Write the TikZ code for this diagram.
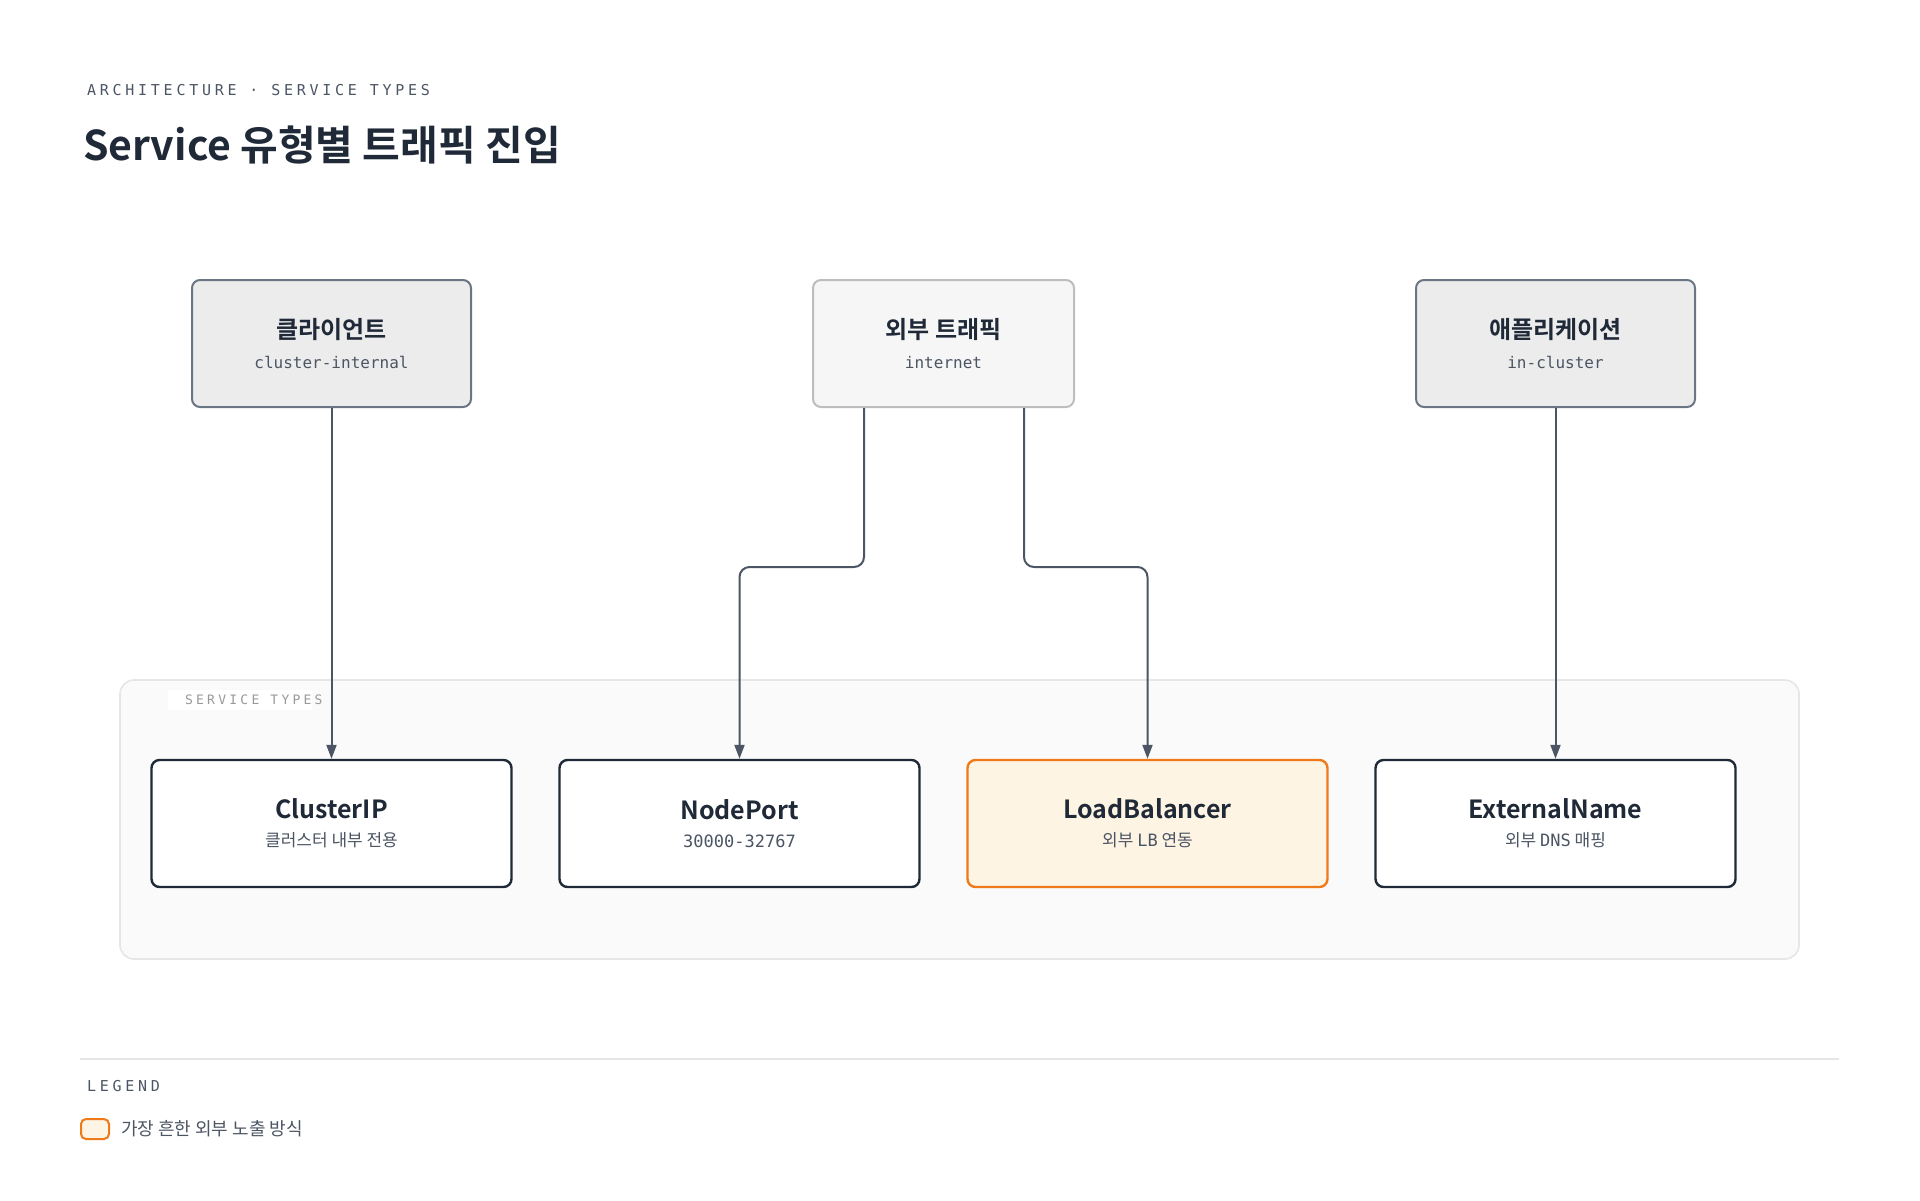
\documentclass[tikz,border=0pt]{standalone}
\usepackage{fontspec}
\setmainfont{Noto Sans CJK KR}[BoldFont={Noto Sans CJK KR Bold}]
\newfontfamily\mono{DejaVu Sans Mono}
\newfontfamily\eyebrow{DejaVu Sans Mono}[LetterSpace=25]
\usetikzlibrary{arrows.meta,positioning}
\definecolor{ink}{HTML}{1F2937}
\definecolor{wire}{HTML}{4B5563}
\definecolor{subtxt}{HTML}{4B5563}
\definecolor{srcline}{HTML}{6B7685}
\definecolor{srcfill}{HTML}{ECECEC}
\definecolor{extline}{HTML}{BDBDBD}
\definecolor{extfill}{HTML}{F6F6F6}
\definecolor{lbline}{HTML}{EE7A1A}
\definecolor{lbfill}{HTML}{FEF4E3}
\definecolor{grpline}{HTML}{E6E6E6}
\definecolor{grpfill}{HTML}{FAFAFA}
\begin{document}
\begin{tikzpicture}[x=0.5pt,y=-0.5pt,
	srcnode/.style={rectangle, rounded corners=4pt, line width=1pt,
		minimum width=139.5pt, minimum height=63.5pt,
		draw=srcline, fill=srcfill, align=center, text=ink},
	svcnode/.style={rectangle, rounded corners=4pt, line width=1.2pt,
		minimum width=180pt, minimum height=63.5pt,
		draw=ink, fill=white, align=center, text=ink},
	flow/.style={-{Triangle[length=7pt,width=5pt]}, wire, line width=1pt, rounded corners=5pt}
	]
\useasboundingbox (0,0) rectangle (1920,1200);

%heading
\node[anchor=west, text=subtxt, font=\eyebrow\fontsize{7.5}{9}\selectfont] (eyebrow) at (80,90) {ARCHITECTURE · SERVICE TYPES};
\node[anchor=west, text=ink, font=\bfseries\fontsize{20.5}{24}\selectfont] (title) at (76,145) {Service 유형별 트래픽 진입};

%service group
\node[draw=grpline, fill=grpfill, rounded corners=7pt, line width=0.8pt,
	minimum width=839.5pt, minimum height=139.5pt] (grp) at (959.5,819.5) {};
\node[fill=white, minimum width=72pt, minimum height=10pt, inner sep=0pt] (grpbg) at (240,700) {};
\node[anchor=west, text=gray!80, font=\eyebrow\fontsize{6.5}{8}\selectfont] (grplabel) at (178,700) {SERVICE TYPES};

%source nodes
\node[srcnode] (client) at (331.5,343.5) {{\bfseries\fontsize{12}{14}\selectfont 클라이언트}\\[3pt]{\mono\fontsize{8}{10}\selectfont\color{subtxt}cluster-internal}};
\node[srcnode, draw=extline, fill=extfill, minimum width=130.5pt] (ext) at (943.5,343.5) {{\bfseries\fontsize{12}{14}\selectfont 외부 트래픽}\\[3pt]{\mono\fontsize{8}{10}\selectfont\color{subtxt}internet}};
\node[srcnode] (app) at (1555.5,343.5) {{\bfseries\fontsize{12}{14}\selectfont 애플리케이션}\\[3pt]{\mono\fontsize{8}{10}\selectfont\color{subtxt}in-cluster}};

%service nodes
\node[svcnode] (cip) at (331.5,823.5) {{\bfseries\fontsize{12.5}{15}\selectfont ClusterIP}\\[2pt]{\fontsize{8.5}{10}\selectfont\color{subtxt}클러스터 내부 전용}};
\node[svcnode] (np) at (739.5,823.5) {{\bfseries\fontsize{12.5}{15}\selectfont NodePort}\\[2pt]{\mono\fontsize{8.5}{10}\selectfont\color{subtxt}30000-32767}};
\node[svcnode, draw=lbline, fill=lbfill] (lb) at (1147.5,823.5) {{\bfseries\fontsize{12.5}{15}\selectfont LoadBalancer}\\[2pt]{\fontsize{8.5}{10}\selectfont\color{subtxt}외부 {\mono LB} 연동}};
\node[svcnode] (en) at (1555.5,823.5) {{\bfseries\fontsize{12.5}{15}\selectfont ExternalName}\\[2pt]{\fontsize{8.5}{10}\selectfont\color{subtxt}외부 {\mono DNS} 매핑}};

%connectors
\coordinate (bendnp) at (864,567);
\coordinate (bendlb) at (1024,567);
\draw[flow] (client.south) -- (cip.north);
\draw[flow] (ext.south -| bendnp) -- (bendnp) -| (np.north);
\draw[flow] (ext.south -| bendlb) -- (bendlb) -| (lb.north);
\draw[flow] (app.south) -- (en.north);

%legend
\draw[grpline, line width=0.8pt] (80,1059) coordinate (legl) -- (1839,1059) coordinate (legr);
\node[anchor=west, text=subtxt, font=\eyebrow\fontsize{7.5}{9}\selectfont] (legtitle) at (80,1086) {LEGEND};
\node[draw=lbline, fill=lbfill, rounded corners=2.5pt, line width=1pt,
	minimum width=14pt, minimum height=10pt, inner sep=0pt, anchor=west] (legkey) at (80,1129) {};
\node[anchor=west, text=subtxt, font=\fontsize{9}{11}\selectfont] (legtext) at (114,1129) {가장 흔한 외부 노출 방식};
\end{tikzpicture}
\end{document}
